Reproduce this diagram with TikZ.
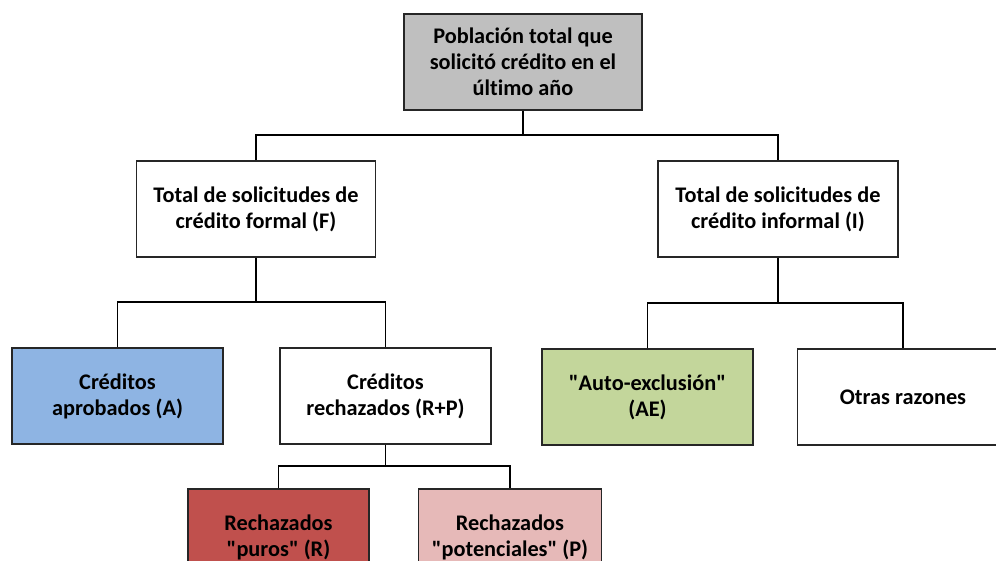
\documentclass[tikz,border=0pt]{standalone}
\usepackage{fontspec}
\setmainfont{Carlito}[Ligatures={TeXOff,CommonOff}]
\definecolor{boxgray}{HTML}{BFBFBF}
\definecolor{boxblue}{HTML}{8EB4E3}
\definecolor{boxgreen}{HTML}{C3D69B}
\definecolor{boxred}{HTML}{C0504D}
\definecolor{boxpink}{HTML}{E6B9B8}
\begin{document}
\begin{tikzpicture}[x=1pt,y=-1pt,
  box/.style={draw=black!85, line width=1.3pt, fill=white, rectangle, align=center,
    font=\fontsize{22.3}{26}\selectfont\bfseries, inner sep=0pt,
    minimum width=211pt, minimum height=96pt},
  conn/.style={draw=black, line width=1.8pt}]
\useasboundingbox (0,0) rectangle (996,561);
\clip (0,0) rectangle (996,561);
\node[box, fill=boxgray, minimum width=238pt] (top) at (523,62) {Población total que\\solicitó crédito en el\\último año};
\node[box, minimum width=239pt] (F) at (256,209) {Total de solicitudes de\\crédito formal (F)};
\node[box, minimum width=240pt] (I) at (778,209) {Total de solicitudes de\\crédito informal (I)};
\node[box, fill=boxblue] (A) at (117.5,396) {Créditos\\aprobados (A)};
\node[box] (RP) at (385.5,396) {Créditos\\rechazados (R+P)};
\node[box, fill=boxgreen] (AE) at (647.5,397) {"Auto-exclusión"\\(AE)};
\node[box] (O) at (903,397) {Otras razones};
\node[box, fill=boxred, minimum width=181pt] (R) at (278.5,537) {Rechazados\\"puros" (R)};
\node[box, fill=boxpink, minimum width=183pt] (P) at (510,537) {Rechazados\\"potenciales" (P)};
\coordinate (j1) at (top.south |- 0,135);
\coordinate (j2) at (F.south |- 0,302);
\coordinate (j3) at (I.south |- 0,303);
\coordinate (j4) at (RP.south |- 0,466);
\draw[conn] (top.south) -- (j1);
\draw[conn] (F.north) |- (j1) -| (I.north);
\draw[conn] (F.south) -- (j2);
\draw[conn] (A.north) |- (j2) -| (RP.north);
\draw[conn] (I.south) -- (j3);
\draw[conn] (AE.north) |- (j3) -| (O.north);
\draw[conn] (RP.south) -- (j4);
\draw[conn] (R.north) |- (j4) -| (P.north);
\end{tikzpicture}
\end{document}
